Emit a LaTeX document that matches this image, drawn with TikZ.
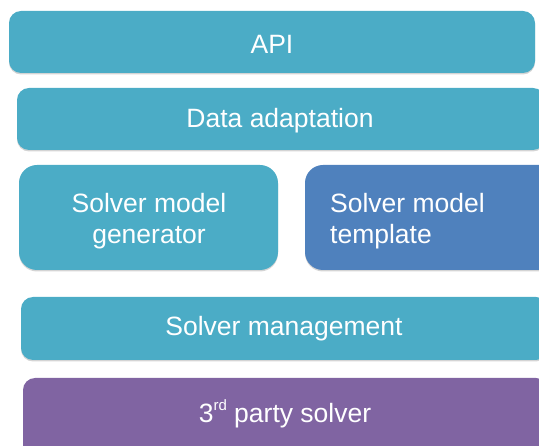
\documentclass[tikz,border=0pt]{standalone}
\usepackage{fontspec}
\setmainfont{Liberation Sans}
\definecolor{layerteal}{HTML}{4BACC6}
\definecolor{layerblue}{HTML}{4F81BD}
\definecolor{layerpurple}{HTML}{8064A2}
\definecolor{layershadow}{HTML}{D4D4D4}
\begin{document}
\begin{tikzpicture}[x=1pt,y=-1pt,
  layer/.style={rounded corners=#1, draw=none},
  lbl/.style={text=white, font=\fontsize{26.5}{31}\selectfont, inner sep=0pt}]
\useasboundingbox (0,0) rectangle (539,446);
\clip (0,0) rectangle (539,446);
% soft bottom edge under each block
\foreach \a/\b/\c/\d/\r in {9/11/535/74/12, 17/88/545/151/12, 19/165/278/271/18, 305/165/560/271/18, 21/297/548/361/12, 23/378/548/470/12}
  \fill[layershadow, rounded corners=\r] (\a,\b+1.5) rectangle (\c,\d+0.5);
% stacked blocks
\fill[layerteal, layer=12] (9,11) rectangle (535,73);
\fill[layerteal, layer=12] (17,88) rectangle (545,150);
\fill[layerteal, layer=18] (19,165) rectangle (278,270);
\fill[layerblue, layer=18] (305,165) rectangle (560,270);
\fill[layerteal, layer=12] (21,297) rectangle (548,360);
\fill[layerpurple, layer=12] (23,378) rectangle (548,470);
% labels
\node[lbl] (api) at (272,44) {API};
\node[lbl] (adapt) at (280,121) {Data adaptation};
\node[lbl, align=center] (gen) at (149,221) {Solver model\\generator};
\node[lbl, align=left, anchor=west] (tmpl) at (330,221) {Solver model\\template};
\node[lbl] (mgmt) at (284,329) {Solver management};
\node[lbl] (third) at (285,414) {3\raisebox{0.45em}{\fontsize{15}{15}\selectfont rd} party solver};
\end{tikzpicture}
\end{document}
